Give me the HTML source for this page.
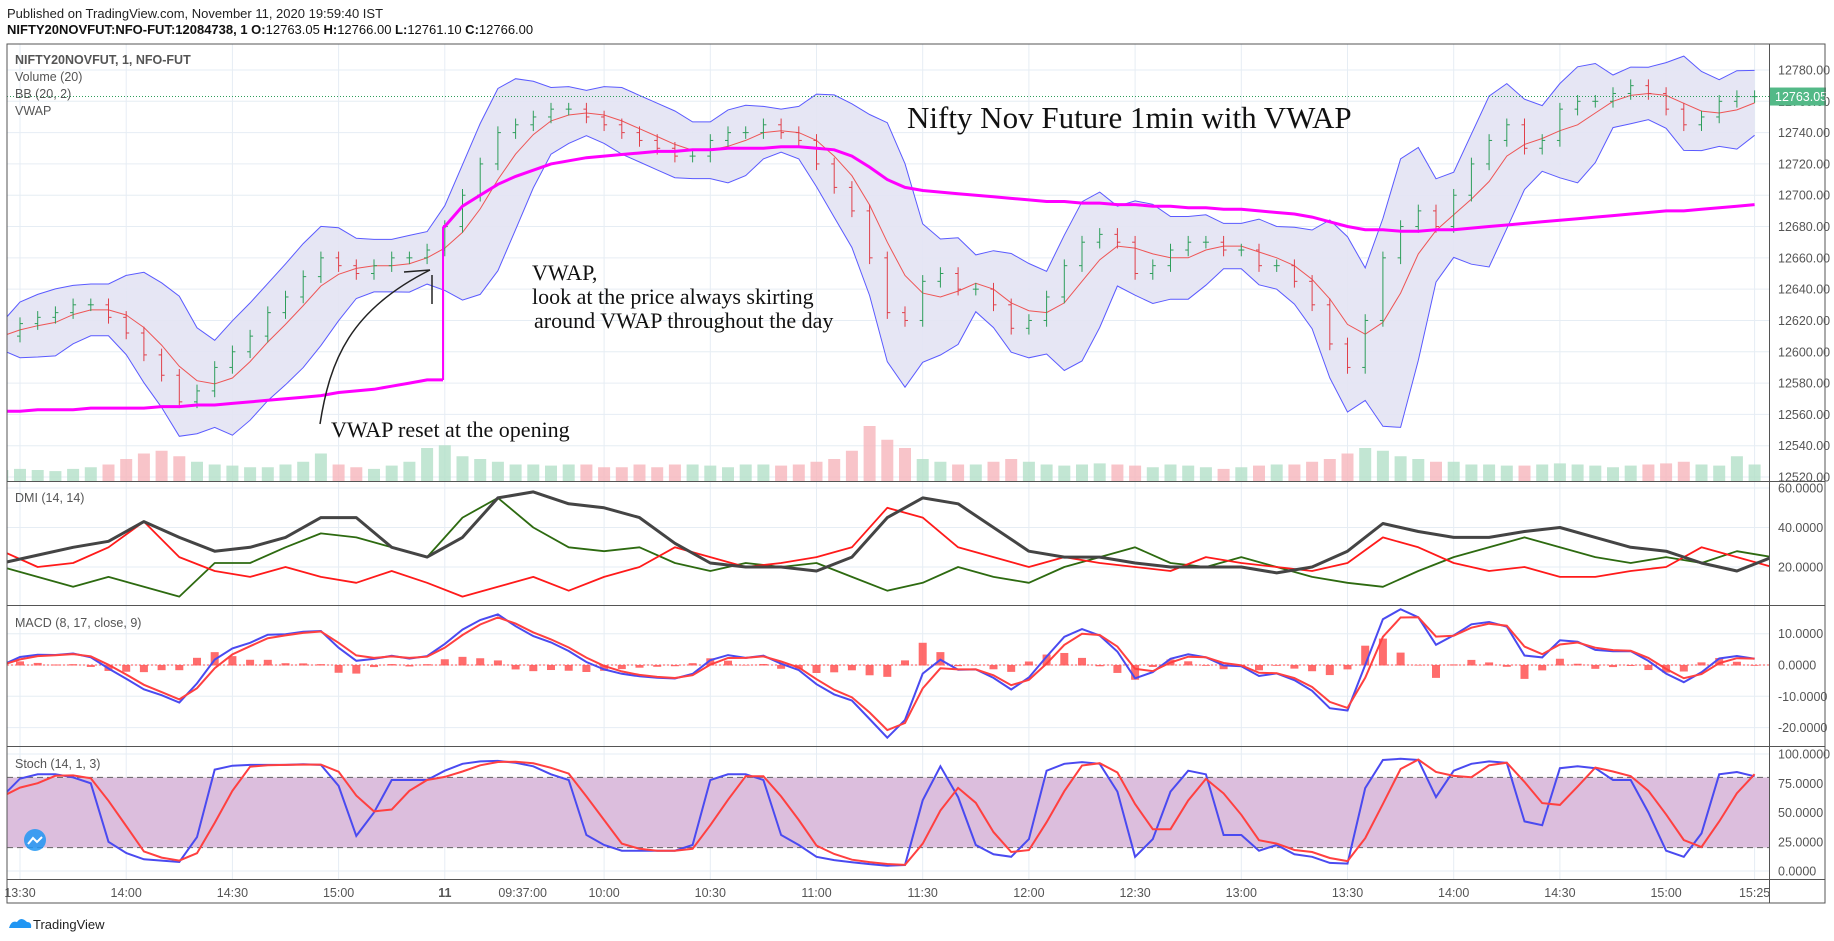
<!DOCTYPE html>
<html><head><meta charset="utf-8"><style>
html,body{margin:0;padding:0;background:#fff;}
svg{display:block;font-family:"Liberation Sans",sans-serif;}
</style></head><body>
<svg id="c" width="1834" height="941" viewBox="0 0 1834 941" xmlns="http://www.w3.org/2000/svg">
<rect x="0" y="0" width="1834" height="941" fill="#fff"/>
<text x="7" y="18" font-size="13" fill="#222">Published on TradingView.com, November 11, 2020 19:59:40 IST</text>
<text x="7" y="34" font-size="13" font-weight="bold" fill="#111">NIFTY20NOVFUT:NFO-FUT:12084738, 1  O:<tspan font-weight="normal">12763.05</tspan> H:<tspan font-weight="normal">12766.00</tspan> L:<tspan font-weight="normal">12761.10</tspan> C:<tspan font-weight="normal">12766.00</tspan></text>
<g id="grid"></g>
<defs><clipPath id="cpMain"><rect x="7" y="44" width="1762" height="437"/></clipPath>
<clipPath id="cpDmi"><rect x="7" y="481" width="1762" height="124"/></clipPath>
<clipPath id="cpMacd"><rect x="7" y="605" width="1762" height="141"/></clipPath>
<clipPath id="cpSto"><rect x="7" y="746" width="1762" height="133"/></clipPath></defs>
<g id="main" clip-path="url(#cpMain)"></g>
<g id="dmi" clip-path="url(#cpDmi)"></g>
<g id="macd" clip-path="url(#cpMacd)"></g>
<g id="sto" clip-path="url(#cpSto)"></g>
<g id="axes"></g>
<rect x="7" y="44" width="1818" height="859" fill="none" stroke="#555" stroke-width="1"/>
<line x1="1769.5" y1="44" x2="1769.5" y2="903" stroke="#555"/>
<line x1="7" y1="481.5" x2="1825" y2="481.5" stroke="#555"/>
<line x1="7" y1="605.5" x2="1825" y2="605.5" stroke="#555"/>
<line x1="7" y1="746.5" x2="1825" y2="746.5" stroke="#555"/>
<line x1="7" y1="879.5" x2="1825" y2="879.5" stroke="#555"/>
<g font-size="12.5" fill="#555">
<text x="15" y="64" font-weight="bold">NIFTY20NOVFUT, 1, NFO-FUT</text>
<text x="15" y="81">Volume (20)</text>
<text x="15" y="98">BB (20, 2)</text>
<text x="15" y="115">VWAP</text>
<text x="15" y="502">DMI (14, 14)</text>
<text x="15" y="627">MACD (8, 17, close, 9)</text>
<text x="15" y="768">Stoch (14, 1, 3)</text>
</g>
<g font-family="Liberation Serif,serif" fill="#111">
<text x="907" y="128" font-size="31">Nifty Nov Future 1min with VWAP</text>
<text x="532" y="280" font-size="22">VWAP,</text>
<text x="532" y="304" font-size="22">look at the price always skirting</text>
<text x="534" y="328" font-size="22"> around VWAP throughout the day</text>
<text x="331" y="437" font-size="22">VWAP reset at the opening</text>
<path d="M320 424 C 330 360, 350 310, 430 270" fill="none" stroke="#222" stroke-width="1.5"/>
<line x1="404" y1="272" x2="430" y2="270" stroke="#222" stroke-width="1.5"/>
<line x1="432" y1="275" x2="432" y2="304" stroke="#222" stroke-width="1.5"/>
</g>
<g><circle cx="35" cy="840" r="11" fill="#2196f3" opacity="0.85"/><path d="M28 844 l5 -6 l4 4 l5 -5" stroke="#fff" stroke-width="2" fill="none"/></g>
<g><path d="M9 928 q2 -8 8 -6 q4 -6 10 0 q5 0 4 6 z" fill="#2196f3"/><text x="33" y="929" font-size="13" fill="#222">TradingView</text></g>
</svg>
<script>
const closes=[12610,12618,12622,12625,12630,12630,12622,12612,12598,12585,12568,12575,12590,12600,12610,12625,12635,12648,12660,12655,12650,12655,12660,12660,12665,
12680,12700,12720,12740,12745,12750,12755,12755,12750,12745,12740,12735,12730,12725,12725,12735,12740,12740,12745,12740,12735,12720,12705,12690,12660,12625,12620,12645,12650,12640,12640,12630,12615,12620,12635,12655,12670,12675,12670,12650,12655,12665,12670,12670,12665,12665,12655,12655,12645,12630,12605,12590,12620,12660,12680,12690,12680,12700,12720,12735,12745,12730,12735,12755,12760,12760,12765,12770,12765,12755,12745,12750,12760,12763,12763];
const vwap=[12562,12562,12563,12563,12563,12564,12564,12564,12564,12565,12565,12566,12566,12567,12568,12569,12570,12571,12572,12574,12575,12576,12578,12580,12582,
12680,12693,12700,12707,12712,12716,12720,12722,12724,12725,12726,12727,12728,12728,12729,12729,12730,12730,12730,12731,12731,12730,12729,12725,12718,12710,12705,12703,12702,12701,12700,12699,12698,12697,12696,12696,12695,12695,12694,12694,12693,12693,12692,12692,12691,12691,12690,12689,12688,12686,12683,12680,12678,12678,12677,12677,12678,12678,12679,12680,12681,12682,12683,12684,12685,12686,12687,12688,12689,12690,12690,12691,12692,12693,12694];
const volume=[20,22,20,18,22,25,30,40,50,55,45,35,30,28,25,25,30,35,50,30,25,22,28,35,60,
65,45,40,35,30,30,28,30,30,25,25,30,25,30,30,28,25,30,30,28,30,35,40,55,100,75,60,40,35,30,30,35,40,35,30,28,30,32,30,28,25,30,28,25,22,25,28,30,30,35,40,50,60,55,45,40,35,35,30,30,28,28,30,32,30,28,25,28,30,32,35,30,28,45,30];
const adx=[22,26,30,33,43,35,28,30,35,45,45,30,25,35,55,58,52,50,45,32,22,20,20,18,25,45,55,52,40,28,25,25,22,20,20,20,17,20,28,42,38,35,35,38,40,35,30,28,22,18,25,15,10];
const plusDI=[20,15,10,15,10,5,22,22,30,37,35,30,25,45,55,40,30,28,30,22,18,22,20,22,15,8,12,20,15,12,20,25,30,22,20,25,20,15,12,10,18,25,30,35,30,25,22,25,22,28,25,20,18];
const minusDI=[28,20,22,30,43,25,18,15,20,15,12,18,12,5,10,15,8,15,20,30,25,20,22,25,30,50,45,30,25,20,25,22,20,18,25,22,20,18,22,35,30,22,18,20,15,15,18,20,30,25,20,18,18];
const timeLabels=['13:30','14:00','14:30','15:00','11','09:37:00','10:00','10:30','11:00','11:30','12:00','12:30','13:00','13:30','14:00','14:30','15:00','15:25'];
const timeBars=[5,35,65,95,125,147,170,200,230,260,290,320,350,380,410,440,470,495];
const priceTicks=[12780,12760,12740,12720,12700,12680,12660,12640,12620,12600,12580,12560,12540,12520];
const dmiTicks=[60,40,20];
const macdTicks=[10,0,-10,-20];
const stoTicks=[100,75,50,25,0];

const NS='http://www.w3.org/2000/svg';
function mk(parent,tag,attrs){const e=document.createElementNS(NS,tag);for(const k in attrs)e.setAttribute(k,attrs[k]);parent.appendChild(e);return e;}
const xOf=b=>2.3+b*3.54;
const barOf=k=>k<25?5*k:125+5*(k-25);
const py=p=>70+(12780-p)*1.5654;
const dy=v=>488+(60-v)*1.975;
const my=v=>665-v*3.13;
const sy=v=>871-v*1.17;
const volH=v=>v*0.55;
const G=document.getElementById('grid'),M=document.getElementById('main'),D=document.getElementById('dmi'),MC=document.getElementById('macd'),S=document.getElementById('sto'),A=document.getElementById('axes');

// grid
timeBars.forEach((b,i)=>{if(timeLabels[i]==='09:37:00')return;
 const l=mk(G,'line',{x1:xOf(b),x2:xOf(b),y1:44,y2:879,stroke:'#e6edf4'});
 
 });
priceTicks.forEach(p=>{const l=mk(G,'line',{x1:7,x2:1769,y1:py(p),y2:py(p),stroke:'#e6edf4'});
 
 
 const t=mk(A,'text',{x:1778,y:py(p)+4.5,'font-size':12.5,fill:'#555'});t.textContent=p.toFixed(2);
 
 });
[[dmiTicks,dy,'dmi'],[macdTicks,my,'macd'],[stoTicks,sy,'stoch']].forEach(([ticks,f,n])=>{ticks.forEach(v=>{
 const l=mk(G,'line',{x1:7,x2:1769,y1:f(v),y2:f(v),stroke:'#e6edf4'});
 
 
 const t=mk(A,'text',{x:1778,y:f(v)+4.5,'font-size':12.5,fill:'#555'});t.textContent=v.toFixed(4);
 
 });});
timeBars.forEach((b,i)=>{const t=mk(A,'text',{x:xOf(b),y:897,'font-size':12.5,fill:'#555','text-anchor':'middle','font-weight':timeLabels[i]==='11'?'bold':'normal'});t.textContent=timeLabels[i];
 
 });

// OHLC derived
const n=closes.length;
const opens=closes.map((c,k)=>k?closes[k-1]:c-3);
const highs=closes.map((c,k)=>Math.max(c,opens[k])+4);
const lows=closes.map((c,k)=>Math.min(c,opens[k])-4);

// volume
volume.forEach((v,k)=>{const x=xOf(barOf(k));const up=closes[k]>=opens[k];
 const r=mk(M,'rect',{x:x-6,y:481-volH(v),width:12,height:volH(v),fill:up?'#b3e0c8':'#f6b5bb',opacity:0.8});
 
 });

// BB
const mid=[],up=[],lo=[];
for(let k=0;k<n;k++){const s=closes.slice(Math.max(0,k-3),k+1);const m=s.reduce((a,b)=>a+b,0)/s.length;
 const sd=Math.sqrt(s.reduce((a,b)=>a+(b-m)*(b-m),0)/s.length);mid.push(m);up.push(m+2.2*sd+9);lo.push(m-2.2*sd-9);}
const pts=a=>a.map((v,k)=>xOf(barOf(k)).toFixed(1)+','+py(v).toFixed(1));
const fill=mk(M,'polygon',{points:pts(up).concat(pts(lo).reverse()).join(' '),fill:'#e3e3f3',opacity:0.9});


[[up,'#5a5aff','bb-upper'],[lo,'#5a5aff','bb-lower'],[mid,'#ee5555','bb-basis']].forEach(([a,c,nm])=>{
 const l=mk(M,'polyline',{points:pts(a).join(' '),fill:'none',stroke:c,'stroke-width':1});
 
 });

// candles
for(let k=0;k<n;k++){const x=xOf(barOf(k));const c=closes[k]>=opens[k]?'#2e9e5b':'#e0404a';
 const g=mk(M,'g',{});
 
 
 mk(g,'line',{x1:x,x2:x,y1:py(highs[k]),y2:py(lows[k]),stroke:c,'stroke-width':1});
 mk(g,'line',{x1:x-3,x2:x,y1:py(opens[k]),y2:py(opens[k]),stroke:c,'stroke-width':1});
 mk(g,'line',{x1:x,x2:x+3,y1:py(closes[k]),y2:py(closes[k]),stroke:c,'stroke-width':1});}

// VWAP (two sessions)
const resetX=xOf(124.5);
[[0,25,'vwap-prev-day'],[25,n,'vwap-today']].forEach(([a,b,nm])=>{
 const p=[];
 if(a>0)p.push(resetX.toFixed(1)+','+py(vwap[a]).toFixed(1));
 for(let k=a;k<b;k++)p.push(xOf(barOf(k)).toFixed(1)+','+py(vwap[k]).toFixed(1));
 if(a===0)p.push(resetX.toFixed(1)+','+py(vwap[b-1]).toFixed(1));
 const l=mk(M,'polyline',{points:p.join(' '),fill:'none',stroke:'#ff00ff','stroke-width':3});
 
 });
const jump=mk(M,'line',{x1:resetX,x2:resetX,y1:py(vwap[24]),y2:py(vwap[25]),stroke:'#ff00ff','stroke-width':2});



// current price
const cpl=mk(M,'line',{x1:7,x2:1769,y1:py(12763.05),y2:py(12763.05),stroke:'#2e9e5b','stroke-dasharray':'1,2'});


const cpr=mk(A,'rect',{x:1770,y:py(12763.05)-9,width:56,height:18,fill:'#53b987'});


const cpt=mk(A,'text',{x:1775,y:py(12763.05)+4.5,'font-size':12.5,fill:'#fff'});cpt.textContent='12763.05';



// DMI
[[plusDI,'#2d6a10',1.8,'dmi-plus-di'],[minusDI,'#ff1a1a',1.8,'dmi-minus-di'],[adx,'#444',3,'dmi-adx']].forEach(([a,c,w,nm])=>{
 const p=a.map((v,i)=>xOf(i*10).toFixed(1)+','+dy(v).toFixed(1));
 const l=mk(D,'polyline',{points:p.join(' '),fill:'none',stroke:c,'stroke-width':w,'stroke-linejoin':'round'});
 
 });

// MACD derived from closes
let ef=closes[0],es=closes[0],sg=0;const mv=[],sv=[];
closes.forEach(c=>{ef+= (c-ef)*0.77;es+=(c-es)*0.45;const m=ef-es;sg+=(m-sg)*0.7;mv.push(m);sv.push(sg);});
mv.forEach((m,k)=>{const h=(m-sv[k])*1.5;const x=xOf(barOf(k));
 const r=mk(MC,'rect',{x:x-4,y:Math.min(my(0),my(h)),width:8,height:Math.abs(my(h)-my(0))+0.5,fill:'#ff5252',opacity:0.85});
 
 });
const zl=mk(MC,'line',{x1:7,x2:1769,y1:my(0),y2:my(0),stroke:'#ff5252','stroke-dasharray':'2,2'});


[[mv,'#4a4af0','macd-line'],[sv,'#ff4040','macd-signal']].forEach(([a,c,nm])=>{
 const l=mk(MC,'polyline',{points:a.map((v,k)=>xOf(barOf(k)).toFixed(1)+','+my(v).toFixed(1)).join(' '),fill:'none',stroke:c,'stroke-width':2});
 
 });

// Stoch
const band=mk(S,'rect',{x:7,y:sy(80),width:1762,height:sy(20)-sy(80),fill:'#dcbedd'});


[80,20].forEach(v=>{const l=mk(S,'line',{x1:7,x2:1769,y1:sy(v),y2:sy(v),stroke:'#666','stroke-dasharray':'6,4'});
 
 });
const K=[],Dd=[];
for(let k=0;k<n;k++){const a=Math.max(0,k-2);let hh=-1e9,ll=1e9;for(let j=a;j<=k;j++){hh=Math.max(hh,highs[j]);ll=Math.min(ll,lows[j]);}
 K.push(hh>ll?(closes[k]-ll)/(hh-ll)*100:50);}
for(let k=0;k<n;k++){const s=K.slice(Math.max(0,k-2),k+1);Dd.push(s.reduce((a,b)=>a+b,0)/s.length);}
[[K,'#4a4af0','stoch-k'],[Dd,'#ff4040','stoch-d']].forEach(([a,c,nm])=>{
 const p=a.map((v,k)=>xOf(barOf(k)).toFixed(1)+','+sy(v).toFixed(1));
 const l=mk(S,'polyline',{points:p.join(' '),fill:'none',stroke:c,'stroke-width':2});
 
 });
</script>
</body></html>
